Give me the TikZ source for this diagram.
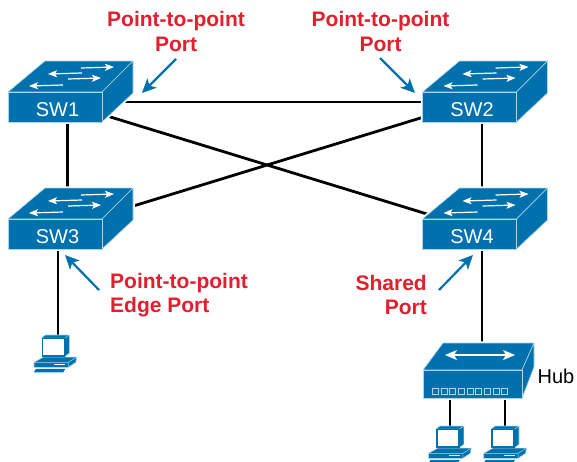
\documentclass[tikz,border=0pt]{standalone}
\usepackage{fontspec}
\setmainfont{Liberation Sans}
\usetikzlibrary{arrows.meta,backgrounds}
\definecolor{swblue}{RGB}{0,113,173}
\definecolor{swedge}{RGB}{170,214,234}
\definecolor{callred}{RGB}{226,31,45}

\tikzset{
  swside/.style={fill=swblue,draw=swedge,line width=0.6pt,line join=round},
  swarrow/.style={draw=white,line width=1.2pt,-{Stealth[length=9pt,width=7pt,inset=2pt]}},
  swface/.style={shape=rectangle,fill=swblue,draw=swedge,line width=0.6pt,minimum width=94pt,minimum height=30pt,inner sep=0pt,text=white,text height=19.5pt,text depth=0pt,execute at begin node={\hspace*{5pt}},font=\fontsize{20}{20}\selectfont},
  hubface/.style={shape=rectangle,fill=swblue,draw=swedge,line width=0.6pt,minimum width=99pt,minimum height=28pt,inner sep=0pt},
  pcscreen/.style={shape=rectangle,fill=white,draw=swblue,line width=1.4pt,minimum width=22pt,minimum height=17.5pt,inner sep=0pt},
  link/.style={draw=black,line width=2.8pt},
  callout/.style={draw=swblue,line width=2.2pt,-{Stealth[length=14pt,width=13pt,inset=3.5pt]}},
  calltext/.style={text=callred,font=\bfseries\fontsize{21}{24.5}\selectfont,inner sep=0pt},
  pics/swbody/.style={code={
    \fill [white,draw=white,line width=3.5pt,line join=round] (-47,-15) -- (-10,-46) -- (78,-46) -- (78,-14) -- (47,15) -- (-47,15) -- cycle;
    \path [swside] (-47,-15) -- (-10,-46) -- (78,-46) -- (47,-15) -- cycle;
    \path [swside] (47,-15) -- (78,-46) -- (78,-14) -- (47,15) -- cycle;
    \draw [swarrow] (26,-39) to (59,-40);
    \draw [swarrow] (27,-34) to (-7,-33);
    \draw [swarrow] (13,-28) to (46,-29);
    \draw [swarrow] (8,-22) to (-26,-21);
  }},
  pics/hubbody/.style={code={
    \fill [white,draw=white,line width=3.5pt,line join=round] (-49.5,-14) -- (-29.5,-41) -- (61.5,-41) -- (61.5,-17) -- (49.5,14) -- (-49.5,14) -- cycle;
    \path [swside] (-49.5,-14) -- (-29.5,-41) -- (61.5,-41) -- (49.5,-14) -- cycle;
    \path [swside] (49.5,-14) -- (61.5,-41) -- (61.5,-17) -- (49.5,14) -- cycle;
    \draw [draw=white,line width=1.2pt,{Stealth[length=12pt,width=10pt,inset=3pt]}-{Stealth[length=12pt,width=10pt,inset=3pt]}] (-27.5,-29) to (42.5,-29);
  }},
  pics/hubports/.style={code={
    \foreach \p in {0,...,8}
      \draw [draw=swedge,fill=swblue,line width=0.8pt] (-40+8.65*\p,4) rectangle ++(6,6);
  }},
  pics/pcbody/.style={code={
    \path [swside] (-11.7,-9.3) -- (-8,-12.3) -- (16,-12.3) -- (16,6) -- (11.7,9.3) -- cycle;
    \draw [swedge,line width=0.5pt] (-11.7,-9.3) -- (11.7,-9.3) -- (16,-12.3);
    \path [swside] (-19.3,15) -- (-10,9.8) -- (23.5,9.8) -- (22.5,15) -- (15,20) -- (-19.3,20) -- cycle;
    \draw [swedge,line width=0.5pt] (-19.3,15) -- (15,15) -- (15,20) (15,15) -- (23.5,9.8);
    \fill [white] (1,16.5) rectangle (12,18);
    \fill [swblue] (-17.3,21.5) -- (12,21.5) -- (10,25) -- (-19.3,25) -- cycle;
  }}
}

\begin{document}
\begin{tikzpicture}[x=1pt,y=-1pt]
\useasboundingbox (0,0) rectangle (577,461);

% switches
\path (55,107) pic {swbody} node (sw1) [swface] {SW1};
\path (469.5,107) pic {swbody} node (sw2) [swface] {SW2};
\path (55,234) pic {swbody} node (sw3) [swface] {SW3};
\path (469.5,234) pic {swbody} node (sw4) [swface] {SW4};

% hub and hosts
\path (472.5,384) pic {hubbody} node (hub) [hubface] {};
\path (472.5,384) pic {hubports};
\path (53.3,347.3) pic {pcbody} node (pc1) [pcscreen] {};
\path (447.8,438.3) pic {pcbody} node (pc2) [pcscreen] {};
\path (503,438.3) pic {pcbody} node (pc3) [pcscreen] {};

\path (556,376) node (hublabel) [inner sep=0pt,font=\fontsize{20}{20}\selectfont] {Hub};

% links
\begin{scope}[on background layer]
\draw [link] ([yshift=5pt]sw1.center) to ([yshift=5pt]sw2.center);
\draw [link] ([yshift=7pt]sw1.center) to ([yshift=7pt]sw4.center);
\draw [link] ([yshift=4pt]sw3.center) to ([yshift=4pt]sw2.center);
\draw [link] ([xshift=12.5pt]sw1.south) to ([xshift=12.5pt]sw3.north);
\draw [link] ([xshift=12.5pt]sw2.south) to ([xshift=12.5pt]sw4.north);
\draw [link] ([xshift=12.5pt]sw4.south) to ([xshift=9.5pt]hub.north);
\draw [link] ([xshift=3pt]sw3.south) to ([xshift=4.7pt]pc1.north);
\draw [link] ([xshift=-22.5pt]hub.south) to ([xshift=2.2pt]pc2.north);
\draw [link] ([xshift=32.5pt]hub.south) to ([xshift=2pt]pc3.north);
\end{scope}

% callouts
\path (176,31.5) node (port1) [calltext,align=center] {Point-to-point\\Port};
\path (380.5,31.5) node (port2) [calltext,align=center] {Point-to-point\\Port};
\path (110,295) node (port3) [calltext,align=left,anchor=west] {Point-to-point\\Edge Port};
\path (427,295) node (port4) [calltext,align=right,anchor=east] {Shared\\Port};

\coordinate (start1) at (176,59);
\coordinate (tip1) at (142,93);
\coordinate (start2) at (380,58);
\coordinate (tip2) at (415,93);
\coordinate (start3) at (99,290);
\coordinate (tip3) at (65,255);
\coordinate (start4) at (439,290);
\coordinate (tip4) at (473,255);

\draw [callout] (start1) to (tip1);
\draw [callout] (start2) to (tip2);
\draw [callout] (start3) to (tip3);
\draw [callout] (start4) to (tip4);
\end{tikzpicture}
\end{document}
